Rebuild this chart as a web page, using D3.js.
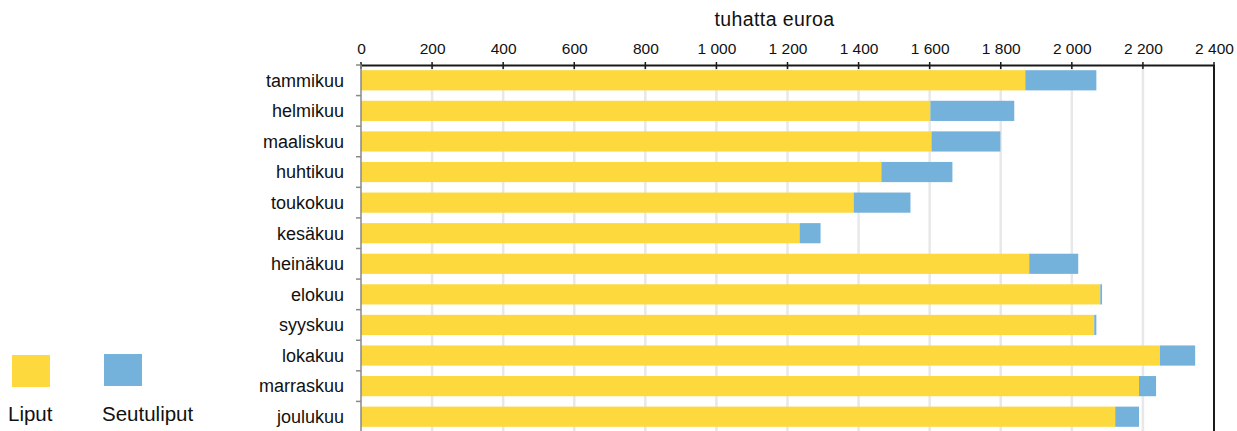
<!DOCTYPE html>
<html><head><meta charset="utf-8">
<script src="https://cdn.jsdelivr.net/npm/d3@7"></script>
<style>body{margin:0;background:#fff;}svg{display:block;font-family:"Liberation Sans",Arial,sans-serif;}</style>
</head><body>
<svg id="c" width="1237" height="431"></svg>
<script>
const months = ["tammikuu","helmikuu","maaliskuu","huhtikuu","toukokuu","kesäkuu","heinäkuu","elokuu","syyskuu","lokakuu","marraskuu","joulukuu"];
const liput = [1869,1602,1605,1464,1386,1234,1880,2080,2063,2248,2189,2122];
const seutuliput = [200,236,194,200,160,59,138,5,6,99,48,67];
const xTicks = [0,200,400,600,800,1000,1200,1400,1600,1800,2000,2200,2400];
const seriesNames = ["Liput","Seutuliput"];
const colors = ["#fdd93e","#75b2db"];

(function(){
const svg = d3.select("#c");
const pL = 361, pR = 1214, pT = 65, pB = 432;
const x = d3.scaleLinear().domain([0,2400]).range([pL,pR]);
const y = d3.scaleBand().domain(months).range([pT,pB]).paddingInner(0.34).paddingOuter(0.17);
const fmt = v => d3.format(",")(v).replace(/,/g,"\u00a0");

svg.append("g").selectAll("line").data(xTicks.slice(1,-1)).join("line")
  .attr("x1",d=>x(d)).attr("x2",d=>x(d)).attr("y1",pT).attr("y2",pB)
  .attr("stroke","#e8e8e8").attr("stroke-width",2.5);

const data = months.map((m,i)=>({m, a:liput[i], b:seutuliput[i]}));
const g = svg.append("g");
g.selectAll("rect.a").data(data).join("rect").attr("class","a")
  .attr("x",x(0)).attr("y",d=>y(d.m)).attr("height",y.bandwidth())
  .attr("width",d=>x(d.a)-x(0)).attr("fill",colors[0]);
g.selectAll("rect.b").data(data).join("rect").attr("class","b")
  .attr("x",d=>x(d.a)).attr("y",d=>y(d.m)).attr("height",y.bandwidth())
  .attr("width",d=>x(d.a+d.b)-x(d.a)).attr("fill",colors[1]);

const xa = svg.append("g").attr("transform",`translate(0,${pT})`)
  .call(d3.axisTop(x).tickValues(xTicks).tickFormat(fmt).tickSize(0).tickPadding(11));
xa.select(".domain").attr("stroke","#1a1a1a").attr("stroke-width",2);
xa.selectAll("text").attr("font-size",15.5).attr("fill","#111").attr("font-family","Liberation Sans, Arial, sans-serif");
svg.append("g").selectAll("line").data(xTicks).join("line")
  .attr("x1",d=>x(d)).attr("x2",d=>x(d)).attr("y1",pT-3).attr("y2",pT+4)
  .attr("stroke","#1a1a1a").attr("stroke-width",1.5);

const bounds = months.map(m=>y(m)-y.step()*y.paddingInner()/2).concat([pB]);
svg.append("line").attr("x1",pL).attr("x2",pL).attr("y1",pT).attr("y2",pB)
  .attr("stroke","#888").attr("stroke-width",1.5);
svg.append("g").selectAll("line").data(bounds).join("line")
  .attr("x1",pL-5).attr("x2",pL).attr("y1",d=>d).attr("y2",d=>d)
  .attr("stroke","#888").attr("stroke-width",1.5);
svg.append("g").selectAll("text").data(months).join("text")
  .attr("x",pL-17).attr("y",m=>y(m)+y.bandwidth()/2).attr("dy","0.35em")
  .attr("text-anchor","end").attr("font-size",18).attr("fill","#111").text(m=>m);

svg.append("line").attr("x1",pR).attr("x2",pR).attr("y1",pT).attr("y2",pB)
  .attr("stroke","#1a1a1a").attr("stroke-width",2);

svg.append("text").attr("x",(pL+pR)/2 - 13).attr("y",26).attr("text-anchor","middle")
  .attr("font-size",19.5).attr("letter-spacing",0.4).attr("fill","#111").text("tuhatta euroa");

const leg = [{x:12,y:355,tx:8},{x:104,y:354,tx:102}];
seriesNames.forEach((n,i)=>{
  svg.append("rect").attr("x",leg[i].x).attr("y",leg[i].y).attr("width",38).attr("height",32).attr("fill",colors[i]);
  svg.append("text").attr("x",leg[i].tx).attr("y",421).attr("font-size",20.5).attr("fill","#111").text(n);
});
})();
</script>
</body></html>
